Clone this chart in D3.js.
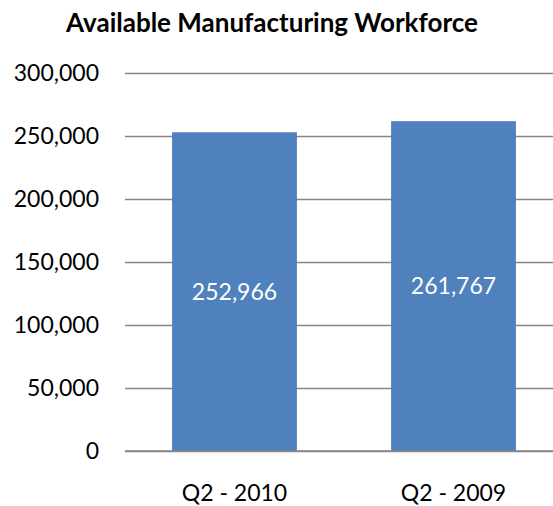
<!DOCTYPE html>
<html>
<head>
<meta charset="utf-8">
<script src="https://cdn.jsdelivr.net/npm/d3@7"></script>
<style>
  html, body { margin: 0; padding: 0; background: #fff; }
  svg { display: block; font-family: Lato, "Open Sans", sans-serif; }
</style>
</head>
<body>
<svg id="chart" width="553" height="506"></svg>
<script>
// Available manufacturing workforce, by quarter
const categories = ["Q2 - 2010", "Q2 - 2009"];
const workforce = [252966, 261767];
const yTicks = [0, 50000, 100000, 150000, 200000, 250000, 300000];
const chartTitle = "Available Manufacturing Workforce";

const width = 553, height = 506;
const plot = { left: 125, right: 563, top: 73, bottom: 451 };

const svg = d3.select("#chart");
const fmt = d3.format(",");

const x = d3.scaleBand()
  .domain(categories)
  .range([plot.left, plot.right])
  .paddingInner(0.43)
  .paddingOuter(0.215);

const y = d3.scaleLinear()
  .domain([0, 300000])
  .range([plot.bottom, plot.top]);

// Title
svg.append("text")
  .attr("x", 272)
  .attr("y", 32)
  .attr("text-anchor", "middle")
  .attr("font-weight", "bold")
  .attr("font-size", 26)
  .attr("fill", "#000")
  .text(chartTitle);

// Horizontal gridlines and value labels
const yAxis = d3.axisLeft(y)
  .tickValues(yTicks)
  .tickFormat(fmt)
  .tickSize(-(width - plot.left))
  .tickPadding(26);

const gy = svg.append("g")
  .attr("transform", `translate(${plot.left},0)`)
  .call(yAxis);
gy.select(".domain").remove();
gy.selectAll(".tick line")
  .attr("stroke", "#868686")
  .attr("stroke-width", 1.5);
gy.selectAll(".tick text")
  .attr("font-size", 23)
  .attr("fill", "#000")
  .attr("font-family", "Lato, sans-serif");

// Bars
svg.append("g")
  .selectAll("rect")
  .data(workforce)
  .join("rect")
  .attr("x", (d, i) => x(categories[i]))
  .attr("y", d => y(d))
  .attr("width", x.bandwidth())
  .attr("height", d => y(0) - y(d))
  .attr("fill", "#4F81BD");

// Baseline drawn over the bar bottoms
svg.append("line")
  .attr("x1", plot.left).attr("x2", width)
  .attr("y1", y(0)).attr("y2", y(0))
  .attr("stroke", "#868686")
  .attr("stroke-width", 1.5);

// Value labels inside bars
svg.append("g")
  .selectAll("text")
  .data(workforce)
  .join("text")
  .attr("x", (d, i) => x(categories[i]) + x.bandwidth() / 2)
  .attr("y", d => y(d / 2))
  .attr("dy", "0.35em")
  .attr("text-anchor", "middle")
  .attr("font-size", 23)
  .attr("fill", "#fff")
  .text(d => fmt(d));

// Category labels
const xAxis = d3.axisBottom(x).tickSize(0).tickPadding(34);
const gx = svg.append("g")
  .attr("transform", `translate(0,${plot.bottom})`)
  .call(xAxis);
gx.select(".domain").remove();
gx.selectAll(".tick text")
  .attr("font-size", 23)
  .attr("fill", "#000")
  .attr("font-family", "Lato, sans-serif");
</script>
</body>
</html>
